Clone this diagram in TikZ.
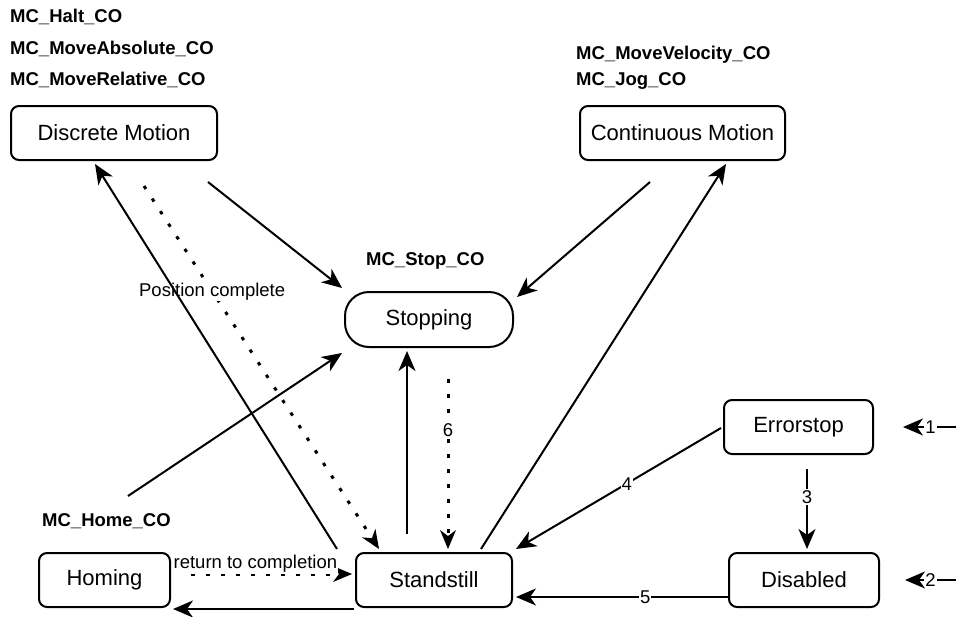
\documentclass[tikz,border=0pt]{standalone}
\usepackage{fontspec}
\setmainfont{Liberation Sans}
\usetikzlibrary{arrows.meta,calc}

\tikzset{
  state/.style={draw, line width=2pt, rounded corners=8pt, inner sep=0pt,
    font=\fontsize{22}{26}\selectfont},
  pill/.style={state, rounded corners=24pt},
  fbname/.style={anchor=west, inner sep=0pt, font=\fontsize{18.5}{22}\bfseries\selectfont},
  tiphead/.tip={Stealth[length=20pt,width=17pt,inset=6pt]},
  arr/.style={line width=2pt, -tiphead},
  dotarr/.style={line width=3pt, dash pattern=on 3.5pt off 11.5pt,
    -{Stealth[length=19pt,width=16pt,inset=6pt,line width=0pt]}},
  elabel/.style={fill=white, inner sep=1pt, font=\fontsize{18.5}{22}\selectfont}
}

\begin{document}
\begin{tikzpicture}[x=1pt, y=-1pt]
  \useasboundingbox (0,0) rectangle (957,616);

  % states
  \node[state, minimum width=206pt, minimum height=54pt] (dm) at (114,133) {Discrete Motion};
  \node[state, minimum width=205pt, minimum height=54pt] (cm) at (682.5,133) {Continuous Motion};
  \node[pill,  minimum width=168pt, minimum height=55pt] (stp) at (429,319.5) {Stopping};
  \node[state, minimum width=149pt, minimum height=54pt] (es) at (798.5,427) {Errorstop};
  \node[state, minimum width=150pt, minimum height=54pt] (ds) at (804,580) {Disabled};
  \node[state, minimum width=156pt, minimum height=54pt] (ss) at (434,580) {Standstill};
  \node[state, minimum width=131pt, minimum height=54pt] (hm) at (104.5,580) {Homing};

  % function blocks
  \node[fbname] (fbhalt) at (10,17) {MC\_Halt\_CO};
  \node[fbname] (fbabs)  at (10,49) {MC\_MoveAbsolute\_CO};
  \node[fbname] (fbrel)  at (10,80) {MC\_MoveRelative\_CO};
  \node[fbname] (fbvel)  at (576,55) {MC\_MoveVelocity\_CO};
  \node[fbname] (fbjog)  at (576,81) {MC\_Jog\_CO};
  \node[fbname] (fbstop) at (366,261) {MC\_Stop\_CO};
  \node[fbname] (fbhome) at (42,521) {MC\_Home\_CO};

  % transitions
  \draw[arr] ($(dm.south east)+(-10,21)$) -- ($(stp.north west)+(-2,-3)$);
  \draw[arr] ($(cm.south west)+(71,21)$) -- ($(stp.north east)+(3,6)$);
  \draw[dotarr] ($(dm.south west)+(134,25)$) -- ($(ss.north west)+(24,-3)$)
    node[elabel, pos=0.29] {Position complete};
  \draw[arr] ($(ss.north west)+(-18,-3)$) -- ($(dm.south west)+(85,3)$);
  \draw[arr] ($(hm.north)+(23.5,-56)$) -- ($(stp.south west)+(-2,5)$);
  \draw[arr] ($(ss.north west)+(52,-18)$) -- ($(stp.south west)+(63,3)$);
  \draw[dotarr] ($(stp.south west)+(104,31)$) -- ($(ss.north west)+(93,-3)$)
    node[elabel, pos=0.3] {6};
  \draw[arr] ($(ss.north west)+(126,-3)$) -- ($(cm.south west)+(147,3)$);
  \draw[arr] ($(es.west)+(-2,1)$) -- ($(ss.north east)+(3,-3)$)
    node[elabel, pos=0.46] {4};
  \draw[arr] ($(es.south)+(8.5,14)$) -- ($(ds.north)+(3,-3)$)
    node[elabel, pos=0.35] {3};
  \draw[arr] ($(ds.south west)+(0,-11)$) -- ($(ss.south east)+(3,-11)$)
    node[elabel, pos=0.39] {5};
  \draw[dotarr] ($(hm.east)+(20,-6)$) -- ($(ss.west)+(-3,-6)$)
    node[elabel, pos=0.4, above=-1pt] {return to completion};
  \draw[arr] ($(ss.south west)+(-1,1)$) -- ($(hm.south east)+(2,1)$);

  % external entries
  \coordinate (in1) at ($(es.east)+(82,0)$);
  \coordinate (in2) at ($(ds.east)+(76,0)$);
  \draw[arr] (in1) -- ($(es.east)+(29,0)$) node[elabel, pos=0.48] {1};
  \draw[arr] (in2) -- ($(ds.east)+(25,0)$) node[elabel, pos=0.5] {2};
\end{tikzpicture}
\end{document}
